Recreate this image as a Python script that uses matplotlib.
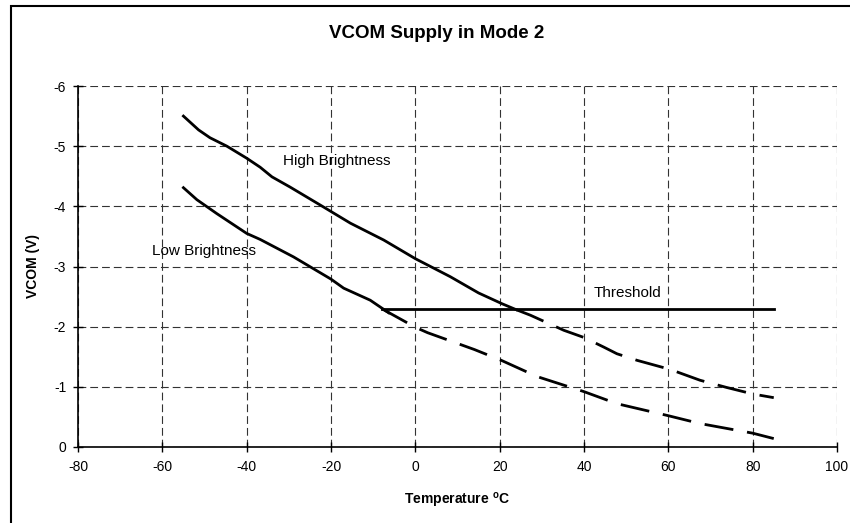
import numpy as np
import matplotlib.pyplot as plt
from matplotlib.patches import Rectangle

plt.rcParams['font.family'] = ['Liberation Sans', 'DejaVu Sans']
plt.rcParams['axes.unicode_minus'] = False

# High Brightness: solid up to the threshold crossing, dashed after
hb_solid_t = [-55, -51.4, -48.7, -44.7, -40, -36.8, -34, -29.7, -21.8, -15.4, -7.5, 0, 8.3, 15, 20.6, 24]
hb_solid_v = [-5.5, -5.27, -5.14, -5.0, -4.8, -4.65, -4.49, -4.32, -3.99, -3.72, -3.44, -3.13, -2.83, -2.56, -2.38, -2.28]
hb_dash_t = [24, 27.3, 35.2, 40, 44.7, 47.8, 52.6, 60.4, 67.5, 73.8, 80.1, 85]
hb_dash_v = [-2.28, -2.19, -1.94, -1.82, -1.66, -1.55, -1.44, -1.29, -1.11, -0.99, -0.88, -0.82]

# Low Brightness
lb_solid_t = [-55, -51.8, -47.1, -40, -36.8, -28.9, -20, -17, -10.7, -6.3]
lb_solid_v = [-4.31, -4.11, -3.88, -3.55, -3.45, -3.16, -2.79, -2.64, -2.44, -2.23]
lb_dash_t = [-8, 0, 2.9, 14, 20.4, 28.9, 40, 47.8, 60, 67.5, 80, 85]
lb_dash_v = [-2.3, -1.99, -1.90, -1.62, -1.44, -1.17, -0.92, -0.72, -0.52, -0.39, -0.23, -0.14]

# Threshold
th_t = [-8, 85]
th_v = [-2.3, -2.3]

x_ticks = [-80, -60, -40, -20, 0, 20, 40, 60, 80, 100]
y_ticks = [0, -1, -2, -3, -4, -5, -6]

fig = plt.figure(figsize=(8.5, 5.23), dpi=100)
ax = fig.add_axes([78 / 850, 1 - 447 / 523, (837 - 78) / 850, (447 - 86) / 523])

dash = (0, (10.5, 5))
ax.plot(hb_solid_t, hb_solid_v, color='black', lw=2)
ax.plot(hb_dash_t, hb_dash_v, color='black', lw=2, linestyle=dash)
ax.plot(lb_solid_t, lb_solid_v, color='black', lw=2)
ax.plot(lb_dash_t, lb_dash_v, color='black', lw=2, linestyle=dash)
ax.plot(th_t, th_v, color='black', lw=2)

ax.text(-31.4, -4.76, 'High Brightness', fontsize=11, va='center', ha='left')
ax.text(-62.5, -3.25, 'Low Brightness', fontsize=11, va='center', ha='left')
ax.text(50.2, -2.56, 'Threshold', fontsize=11, va='center', ha='center')

ax.set_xlim(-80, 100)
ax.set_ylim(0, -6)
ax.set_xticks(x_ticks)
ax.set_yticks(y_ticks)
ax.tick_params(direction='inout', length=7, width=1, labelsize=10)
ax.tick_params(axis='x', pad=6)
ax.tick_params(axis='y', pad=5)
ax.grid(True, linestyle=(0, (7, 3.6)), color='#333333', lw=0.8)
ax.spines['top'].set_visible(False)
ax.spines['right'].set_visible(False)
for s in ['left', 'bottom']:
    ax.spines[s].set_linewidth(1.2)

ax.set_xlabel('Temperature $\\mathregular{^o}$C', fontsize=10, fontweight='bold', labelpad=12)
ax.set_ylabel('VCOM (V)', fontsize=10, fontweight='bold', labelpad=10)
fig.text(437 / 850, 1 - 34 / 523, 'VCOM Supply in Mode 2', fontsize=13.5, fontweight='bold',
         ha='center', va='center')

# chart area border (cut off at right and bottom in the original)
fig.patches.append(Rectangle((11 / 850, -0.1), 1.2, 1 - 6 / 523 + 0.1, transform=fig.transFigure,
                             fill=False, lw=1.5, edgecolor='black'))

fig.savefig('out.png', dpi=100)
